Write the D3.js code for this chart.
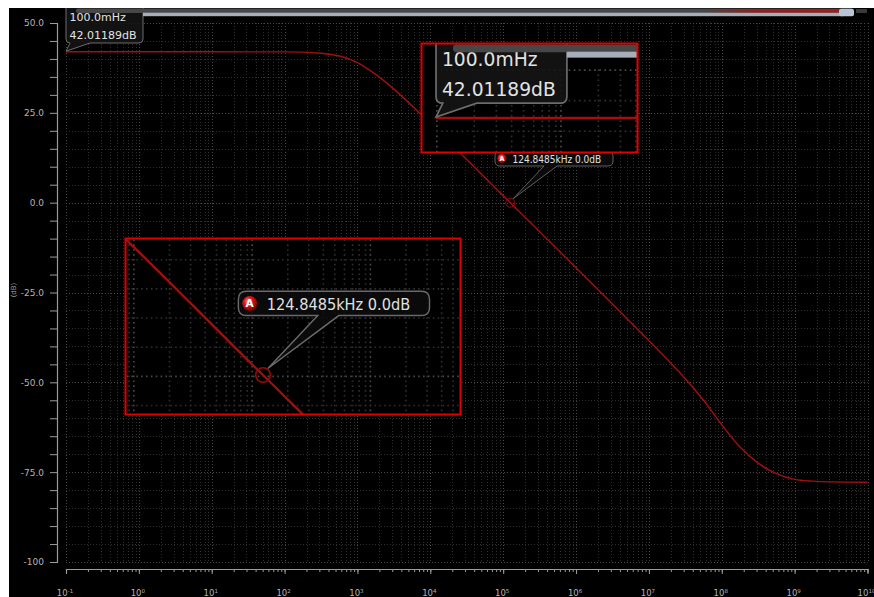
<!DOCTYPE html>
<html>
<head>
<meta charset="utf-8">
<script src="https://cdn.jsdelivr.net/npm/d3@7"></script>
<style>
  html, body { margin: 0; padding: 0; background: #fff; }
  svg { display: block; }
</style>
</head>
<body>
<svg id="chart" width="874" height="597"></svg>
<script>
// ---- data ---------------------------------------------------------------
// decade exponents shown on the frequency axis (10^-1 … 10^10 Hz)
const decadeExponents = [-1, 0, 1, 2, 3, 4, 5, 6, 7, 8, 9, 10];
// magnitude axis ticks (dB)
const yTickValues = [50, 25, 0, -25, -50, -75, -100];
const yTickLabels = ["50.0", "25.0", "0.0", "-25.0", "-50.0", "-75.0", "-100"];
// magnitude response: frequency (Hz) and gain (dB)
const freqHz = [0.1, 1, 10, 100, 316.2, 1000, 1778, 3162, 1e4, 3.162e4, 1e5, 124848.5,
                3.162e5, 1e6, 3.162e6, 1e7, 1.778e7, 3.162e7, 5.623e7, 1e8, 1.778e8,
                3.162e8, 5.623e8, 1e9, 1.778e9, 3.162e9, 1e10];
const gainDb = [42.01, 42.01, 42.0, 41.96, 41.6, 39.0, 35.7, 31.6, 22.0, 12.0, 1.9, 0.0,
                -8.1, -18.1, -28.2, -38.4, -43.6, -49.0, -55.0, -61.8, -68.0,
                -72.5, -75.4, -77.0, -77.5, -77.7, -77.8];
// readout at the start of the trace
const startReadout = ["100.0mHz", "42.01189dB"];
// marker A
const markerFreqHz = 124848.5;
const markerGainDb = 0.0;
const markerText = "124.8485kHz 0.0dB";

// ---- scales -------------------------------------------------------------
const svg = d3.select("#chart");
const x = d3.scaleLog().domain([0.1, 1e10]).range([66, 867.5]);
const y = d3.scaleLinear().domain([-100, 50]).range([562, 23]);

const minorFreqs = [];
decadeExponents.slice(0, -1).forEach(e => {
  for (let k = 1; k <= 9; k++) minorFreqs.push(k * Math.pow(10, e));
});
minorFreqs.push(1e10);
const decades = decadeExponents.map(e => Math.pow(10, e));
const gridDb = d3.range(-100, 51, 5);

const defs = svg.append("defs");
const grad = defs.append("radialGradient").attr("id", "badgeGrad")
  .attr("cx", "40%").attr("cy", "35%").attr("r", "65%");
grad.append("stop").attr("offset", "0%").attr("stop-color", "#ff8a8a");
grad.append("stop").attr("offset", "45%").attr("stop-color", "#d81818");
grad.append("stop").attr("offset", "100%").attr("stop-color", "#7a0000");
const redGrad = defs.append("linearGradient").attr("id", "barRed")
  .attr("x1", "0%").attr("x2", "100%");
redGrad.append("stop").attr("offset", "0%").attr("stop-color", "#a01818").attr("stop-opacity", 0.15);
redGrad.append("stop").attr("offset", "35%").attr("stop-color", "#a01818").attr("stop-opacity", 0.9);
redGrad.append("stop").attr("offset", "100%").attr("stop-color", "#a81a1a");

// rounded box with a pointer on its lower edge
function calloutPath(x0, y0, x1, y1, r, px0, px1, tx, ty) {
  return `M${x0 + r},${y0} H${x1 - r} Q${x1},${y0} ${x1},${y0 + r} V${y1 - r} ` +
         `Q${x1},${y1} ${x1 - r},${y1} H${px1} L${tx},${ty} L${px0},${y1} H${x0 + r} ` +
         `Q${x0},${y1} ${x0},${y1 - r} V${y0 + r} Q${x0},${y0} ${x0 + r},${y0} Z`;
}

// everything inside the plotting window; reused by the magnifier views
function drawScene(g, show) {
  g.append("rect").attr("x", -200).attr("y", -200).attr("width", 1300).attr("height", 1000)
    .attr("fill", "#000");

  const grid = g.append("g").attr("fill", "none").attr("stroke-width", 1)
    .attr("stroke-dasharray", "1,2");
  grid.selectAll(".vg").data(minorFreqs).join("line")
    .attr("x1", d => Math.round(x(d)) + 0.5).attr("x2", d => Math.round(x(d)) + 0.5)
    .attr("y1", y(50)).attr("y2", y(-100))
    .attr("stroke", d => decades.some(v => Math.abs(v - d) / v < 1e-9) ? "#484848" : "#2e2e2e");
  grid.selectAll(".hg").data(gridDb).join("line")
    .attr("x1", x(0.1)).attr("x2", x(1e10))
    .attr("y1", d => Math.round(y(d)) + 0.5).attr("y2", d => Math.round(y(d)) + 0.5)
    .attr("stroke", d => d % 25 === 0 ? "#484848" : "#2e2e2e");

  const pts = freqHz.map((f, i) => [f, gainDb[i]]);
  g.append("path").datum(pts)
    .attr("fill", "none").attr("stroke", "#a30f0f").attr("stroke-width", 1.4)
    .attr("d", d3.line().x(d => x(d[0])).y(d => y(d[1])).curve(d3.curveMonotoneX));

  // readout at trace start
  const sx = x(freqHz[0]), sy = y(gainDb[0]);
  g.append("path")
    .attr("d", calloutPath(sx, 2, 143, 43, 4, sx + 4, sx + 24, sx, sy - 0.5))
    .attr("fill", "#141414").attr("fill-opacity", 0.9)
    .attr("stroke", "#6c6c6c").attr("stroke-width", 1);
  if (show.readout) {
    g.selectAll(".ro").data(startReadout).join("text")
      .attr("x", sx + 3.5).attr("y", (d, i) => 21 + i * 17.5)
      .attr("font-family", "DejaVu Sans").attr("font-size", 11)
      .attr("fill", "#e2e2e2").text(d => d);
  }

  // window title bar strip
  g.append("rect").attr("x", 76).attr("y", 8.5).attr("width", 777).attr("height", 4.5)
    .attr("rx", 2).attr("fill", "#474747");
  g.append("rect").attr("x", 143).attr("y", 12.7).attr("width", 700).attr("height", 3.5)
    .attr("fill", "#a6afb9");
  g.append("rect").attr("x", 710).attr("y", 9.5).attr("width", 131).attr("height", 3)
    .attr("fill", "url(#barRed)");
  g.append("rect").attr("x", 839).attr("y", 8.8).attr("width", 15).attr("height", 7.4)
    .attr("rx", 2).attr("fill", "#b9c5d2");
  g.append("rect").attr("x", 856).attr("y", 9).attr("width", 11).attr("height", 4)
    .attr("fill", "#3a3a3a");

  // marker A
  const mx = x(markerFreqHz), my = y(markerGainDb);
  g.append("circle").attr("cx", mx).attr("cy", my).attr("r", 4.5)
    .attr("fill", "none").attr("stroke", "#9a0a0a").attr("stroke-width", 1);
  g.append("path")
    .attr("d", calloutPath(495, 151, 613, 166, 5, 544, 557, mx + 3, my - 4))
    .attr("fill", "#0c0c0c").attr("fill-opacity", 0.85)
    .attr("stroke", "#6a6a6a").attr("stroke-width", 0.9);
  g.append("circle").attr("cx", 502).attr("cy", 158.5).attr("r", 4.6)
    .attr("fill", "url(#badgeGrad)");
  if (show.marker) {
    g.append("text").attr("x", 502).attr("y", 160.9).attr("text-anchor", "middle")
      .attr("font-family", "DejaVu Sans").attr("font-weight", "bold").attr("font-size", 6.5)
      .attr("fill", "#fff").text("A");
    g.append("text").attr("x", 512.5).attr("y", 162.5)
      .attr("font-family", "DejaVu Sans Condensed").attr("font-size", 10)
      .attr("fill", "#e0e0e0").text(markerText);
  }
}

// ---- main view ------------------------------------------------------------
defs.append("clipPath").attr("id", "frameClip").append("rect")
  .attr("x", 9).attr("y", 8).attr("width", 865).attr("height", 589);
const main = svg.append("g").attr("clip-path", "url(#frameClip)");
drawScene(main, { readout: true, marker: true });

// axes
const axisColor = "#9c9c9c";
const yLabelOf = new Map(yTickValues.map((v, i) => [v, yTickLabels[i]]));
const yAxisG = main.append("g").attr("transform", "translate(57,0)")
  .call(d3.axisLeft(y).tickValues(gridDb).tickSize(7).tickSizeOuter(7).tickPadding(6)
    .tickFormat(d => yLabelOf.get(d) || ""));
const xMinorG = main.append("g").attr("transform", "translate(0,569)")
  .call(d3.axisBottom(x).tickValues(minorFreqs).tickSize(3).tickSizeOuter(4).tickFormat(""));
const xMajorG = main.append("g").attr("transform", "translate(0,569)")
  .call(d3.axisBottom(x).tickValues(decades).tickSize(5).tickSizeOuter(0).tickFormat(""));
xMajorG.select(".domain").remove();
[yAxisG, xMinorG, xMajorG].forEach(a => {
  a.select(".domain").attr("stroke", axisColor).attr("stroke-width", 1.2);
  a.selectAll(".tick line").attr("stroke", axisColor);
  a.selectAll(".tick text").attr("fill", "#b4b4b4")
    .attr("font-family", "DejaVu Sans").attr("font-size", 9);
});
xMajorG.selectAll(".xl").data(decadeExponents).join("text")
  .attr("x", e => x(Math.pow(10, e)) - 1).attr("y", 27)
  .attr("text-anchor", "middle").attr("fill", "#b4b4b4")
  .attr("font-family", "DejaVu Sans").attr("font-size", 8.5)
  .each(function (e) {
    const t = d3.select(this);
    t.append("tspan").text("10");
    t.append("tspan").attr("font-size", 5.5).attr("dy", -3.5).text(e);
  });
main.append("text").attr("transform", "translate(15.5,290) rotate(-90)")
  .attr("text-anchor", "middle").attr("font-family", "DejaVu Sans").attr("font-size", 7)
  .attr("fill", "#a0a0a0").text("(dB)");

// ---- magnifier views --------------------------------------------------------
function magnifier(id, bx, by, bw, bh, s, anchor, at, show) {
  defs.append("clipPath").attr("id", id).append("rect")
    .attr("x", bx).attr("y", by).attr("width", bw).attr("height", bh);
  const tx = at[0] - s * anchor[0], ty = at[1] - s * anchor[1];
  const inner = svg.append("g").attr("clip-path", `url(#${id})`)
    .append("g").attr("transform", `translate(${tx},${ty}) scale(${s})`);
  drawScene(inner, show);
  svg.append("rect").attr("x", bx).attr("y", by).attr("width", bw).attr("height", bh)
    .attr("fill", "none").attr("stroke", "#e00000").attr("stroke-width", 2);
}
magnifier("magStart", 421.5, 43.5, 216, 109, 1.7,
  [x(freqHz[0]), y(gainDb[0])], [436, 118], { readout: true, marker: false });
magnifier("magMarker", 125.5, 238.5, 335, 176, 1.62,
  [x(markerFreqHz), y(markerGainDb)], [263, 375], { readout: false, marker: true });
</script>
</body>
</html>
